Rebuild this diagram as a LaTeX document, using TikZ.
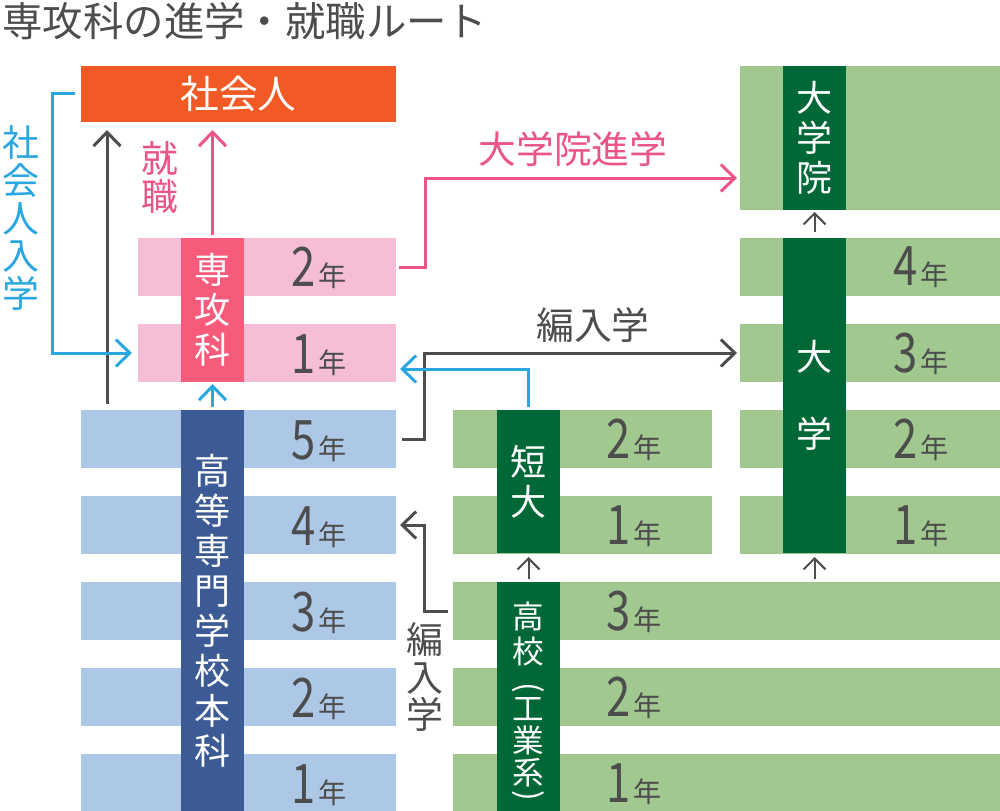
\documentclass[tikz,border=0pt]{standalone}
\usepackage{fontspec}
\setmainfont{Noto Sans CJK JP}
\newfontfamily\numfont[FakeStretch=0.8]{Noto Sans CJK JP}
\usetikzlibrary{arrows.meta}
\definecolor{shakaiorange}{HTML}{F15A24}
\definecolor{senkolight}{HTML}{F5BED6}
\definecolor{senkodark}{HTML}{F75B7B}
\definecolor{pinktext}{HTML}{EA5585}
\definecolor{kosenlight}{HTML}{ADC8E7}
\definecolor{kosendark}{HTML}{3C5A93}
\definecolor{greenlight}{HTML}{A0C88F}
\definecolor{greendark}{HTML}{006837}
\definecolor{cyanline}{HTML}{2AA7E0}
\definecolor{txtgray}{HTML}{4D4D4D}
\newcommand{\yr}[1]{{\numfont\fontsize{31}{31}\selectfont #1}\hspace{2pt}{\fontsize{16}{16}\selectfont 年}}

\begin{document}
\begin{tikzpicture}[x=0.2mm, y=-0.2mm,
  band/.style={minimum width=#1, minimum height=11.6mm, inner sep=0pt, outer sep=0pt, anchor=north west},
  colbox/.style={minimum width=12.6mm, minimum height=#1, inner sep=0pt, outer sep=0pt, anchor=north west, text=white, align=center, font=\fontsize{20.5}{22.8}\selectfont},
  yrtext/.style={anchor=base, text=txtgray, inner sep=0pt},
  vlabel/.style={align=center, inner sep=0pt, font=\fontsize{21}{21.6}\selectfont},
  hlabel/.style={inner sep=0pt, font=\fontsize{21.5}{21.5}\selectfont},
  kokotext/.style={align=center, inner sep=0pt, text=white, font=\fontsize{18}{#1}\selectfont},
  arr/.style={line width=0.6mm, -{Straight Barb[length=2.8mm,width=5.4mm]}},
  thinarr/.style={line width=0.4mm, txtgray, -{Straight Barb[length=2.2mm,width=4.4mm]}}]
    \useasboundingbox (0,0) rectangle (1000,811);
    \node[anchor=west, inner sep=0pt, text=txtgray, font=\fontsize{23}{23}\selectfont] (title) at (2,21) {専攻科の進学・就職ルート};

    \node[band=63mm, minimum height=11.2mm, fill=shakaiorange, text=white, font=\fontsize{22}{22}\selectfont] (shakai) at (81,66) {社会人};

    \node[band=51.6mm, fill=senkolight] (senko2) at (138,238) {};
    \node[band=51.6mm, fill=senkolight] (senko1) at (138,324) {};
    \node[colbox=28.8mm, fill=senkodark] (senkocol) at (181,238) {専\\攻\\科};
    \node[yrtext] (senko2y) at (319,287) {\yr{2}};
    \node[yrtext] (senko1y) at (319,373) {\yr{1}};

    \node[band=63mm, fill=kosenlight] (kosen5) at (81,410) {};
    \node[band=63mm, fill=kosenlight] (kosen4) at (81,496) {};
    \node[band=63mm, fill=kosenlight] (kosen3) at (81,582) {};
    \node[band=63mm, fill=kosenlight] (kosen2) at (81,668) {};
    \node[band=63mm, fill=kosenlight] (kosen1) at (81,754) {};
    \node[colbox=80.4mm, fill=kosendark] (kosencol) at (181,410) {高\\等\\専\\門\\学\\校\\本\\科};
    \node[yrtext] (kosen5y) at (319,459) {\yr{5}};
    \node[yrtext] (kosen4y) at (319,545) {\yr{4}};
    \node[yrtext] (kosen3y) at (319,631) {\yr{3}};
    \node[yrtext] (kosen2y) at (319,717) {\yr{2}};
    \node[yrtext] (kosen1y) at (319,803) {\yr{1}};

    \node[band=51.8mm, fill=greenlight] (tandai2) at (453,410) {};
    \node[band=51.8mm, fill=greenlight] (tandai1) at (453,496) {};
    \node[colbox=28.6mm, fill=greendark] (tandaicol) at (497,410) {短\\大};
    \node[yrtext] (tandai2y) at (634,458) {\yr{2}};
    \node[yrtext] (tandai1y) at (634,544) {\yr{1}};

    \node[band=109.4mm, fill=greenlight] (koko3) at (453,582) {};
    \node[band=109.4mm, fill=greenlight] (koko2) at (453,668) {};
    \node[band=109.4mm, fill=greenlight] (koko1) at (453,754) {};
    \node[colbox=46mm, fill=greendark] (kokocol) at (497,582) {};
    \node[kokotext=20pt] (kokoname) at (528,634) {高\\校};
    \node[kokotext=18pt, rotate=-90] (kokolp) at (528,688) {(};
    \node[kokotext=18.2pt] (kokokind) at (528,742) {工\\業\\系};
    \node[kokotext=18pt, rotate=-90] (kokorp) at (528,796) {)};
    \node[yrtext] (koko3y) at (634,630) {\yr{3}};
    \node[yrtext] (koko2y) at (634,716) {\yr{2}};
    \node[yrtext] (koko1y) at (634,802) {\yr{1}};

    \node[band=52mm, minimum height=28.8mm, fill=greenlight] (daiin) at (740,66) {};
    \node[colbox=28.8mm, fill=greendark] (daiincol) at (783,66) {大\\学\\院};
    \node[band=52mm, fill=greenlight] (dai4) at (740,238) {};
    \node[band=52mm, fill=greenlight] (dai3) at (740,324) {};
    \node[band=52mm, fill=greenlight] (dai2) at (740,410) {};
    \node[band=52mm, fill=greenlight] (dai1) at (740,496) {};
    \node[colbox=63mm, fill=greendark] (daicol) at (783,238) {大\\[21pt]学};
    \node[yrtext] (dai4y) at (921,286) {\yr{4}};
    \node[yrtext] (dai3y) at (921,372) {\yr{3}};
    \node[yrtext] (dai2y) at (921,458) {\yr{2}};
    \node[yrtext] (dai1y) at (921,544) {\yr{1}};

    \node[vlabel, text=pinktext] (shushoku) at (160,177) {就\\職};
    \node[vlabel, text=cyanline] (shakainyu) at (21,218) {社\\会\\人\\入\\学};
    \node[hlabel, text=pinktext] (inshingaku) at (573,149) {大学院進学};
    \node[hlabel, text=txtgray] (hennyu) at (593,325) {編入学};
    \node[vlabel, text=txtgray] (hennyuv) at (425,677) {編\\入\\学};

    \draw[arr, txtgray, shorten <=1.2mm, shorten >=1.6mm] ([xshift=5.2mm]kosen5.north west) -- ([xshift=5.2mm]shakai.south west);
    \draw[arr, pinktext, shorten <=0.6mm, shorten >=1.6mm] (senkocol.north) -- (senkocol.north |- shakai.south);
    \draw[arr, cyanline] ([xshift=-1.2mm]shakai.west) -- ++(-23,0) |- ([xshift=-1.2mm]senko1.west);
    \draw[arr, cyanline, shorten <=0.6mm, shorten >=0.4mm] (kosencol.north) -- (senkocol.south);
    \draw[arr, pinktext] ([xshift=0.6mm]senko2.east) -- ++(26,0) |- ([xshift=-0.6mm,yshift=-8mm]daiin.west);
    \draw[arr, txtgray] ([xshift=1.2mm]kosen5.east) -- ++(22,0) |- ([xshift=-0.6mm]dai3.west);
    \draw[arr, cyanline] ([yshift=0.6mm]tandaicol.north) |- ([xshift=0.8mm,yshift=-3.2mm]senko1.east);
    \draw[arr, txtgray] ([xshift=-1mm]koko3.west) -- ++(-24,0) |- ([xshift=0.8mm]kosen4.east);
    \draw[thinarr, shorten <=0.6mm, shorten >=0.8mm] (kokocol.north) -- (tandaicol.south);
    \draw[thinarr, shorten <=0.6mm, shorten >=0.8mm] (daicol.south |- koko3.north) -- (daicol.south);
    \draw[thinarr, shorten <=1.2mm, shorten >=0.4mm] (daicol.north) -- (daiincol.south);
\end{tikzpicture}
\end{document}
